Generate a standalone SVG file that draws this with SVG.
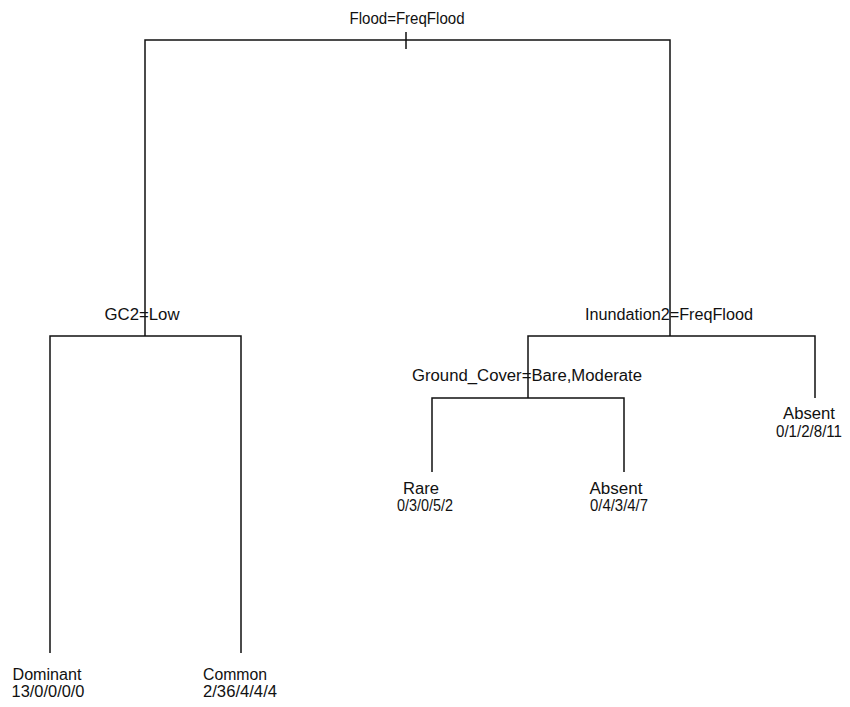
<svg xmlns="http://www.w3.org/2000/svg" width="850" height="707" viewBox="0 0 850 707">
<style>
text{font-family:"Liberation Sans",Arial,sans-serif;font-size:16px;fill:#111}
.c{text-anchor:middle}
.e{stroke:#111;stroke-width:1.5;fill:none}
</style>
<rect width="850" height="707" fill="#fff"/>
<g id="connectors">
<path class="e" d="M145,336V40H670V336M406,32V49"/>
<path class="e" d="M50,653V336H241V653"/>
<path class="e" d="M528,398V336H815V398"/>
<path class="e" d="M432,472V398H624V472"/>
</g>
<g id="root"><text x="407" y="24" class="c" textLength="115" lengthAdjust="spacingAndGlyphs">Flood=FreqFlood</text></g>
<g id="gc2"><text x="142" y="320" class="c" textLength="75" lengthAdjust="spacingAndGlyphs">GC2=Low</text></g>
<g id="inund"><text x="669" y="320" class="c" textLength="168" lengthAdjust="spacingAndGlyphs">Inundation2=FreqFlood</text></g>
<g id="ground"><text x="527" y="381" class="c" textLength="230" lengthAdjust="spacingAndGlyphs">Ground_Cover=Bare,Moderate</text></g>
<g id="dominant"><text x="47" y="680" class="c" textLength="69" lengthAdjust="spacingAndGlyphs">Dominant</text><text x="48" y="697" class="c" textLength="73" lengthAdjust="spacingAndGlyphs">13/0/0/0/0</text></g>
<g id="common"><text x="235" y="680" class="c" textLength="64" lengthAdjust="spacingAndGlyphs">Common</text><text x="240" y="697" class="c" textLength="74" lengthAdjust="spacingAndGlyphs">2/36/4/4/4</text></g>
<g id="rare"><text x="421" y="494" class="c" textLength="36" lengthAdjust="spacingAndGlyphs">Rare</text><text x="425" y="511" class="c" textLength="56" lengthAdjust="spacingAndGlyphs">0/3/0/5/2</text></g>
<g id="absent1"><text x="616" y="494" class="c" textLength="53" lengthAdjust="spacingAndGlyphs">Absent</text><text x="619" y="511" class="c" textLength="58" lengthAdjust="spacingAndGlyphs">0/4/3/4/7</text></g>
<g id="absent2"><text x="809" y="419" class="c" textLength="52" lengthAdjust="spacingAndGlyphs">Absent</text><text x="809" y="437" class="c" textLength="66" lengthAdjust="spacingAndGlyphs">0/1/2/8/11</text></g>
</svg>
